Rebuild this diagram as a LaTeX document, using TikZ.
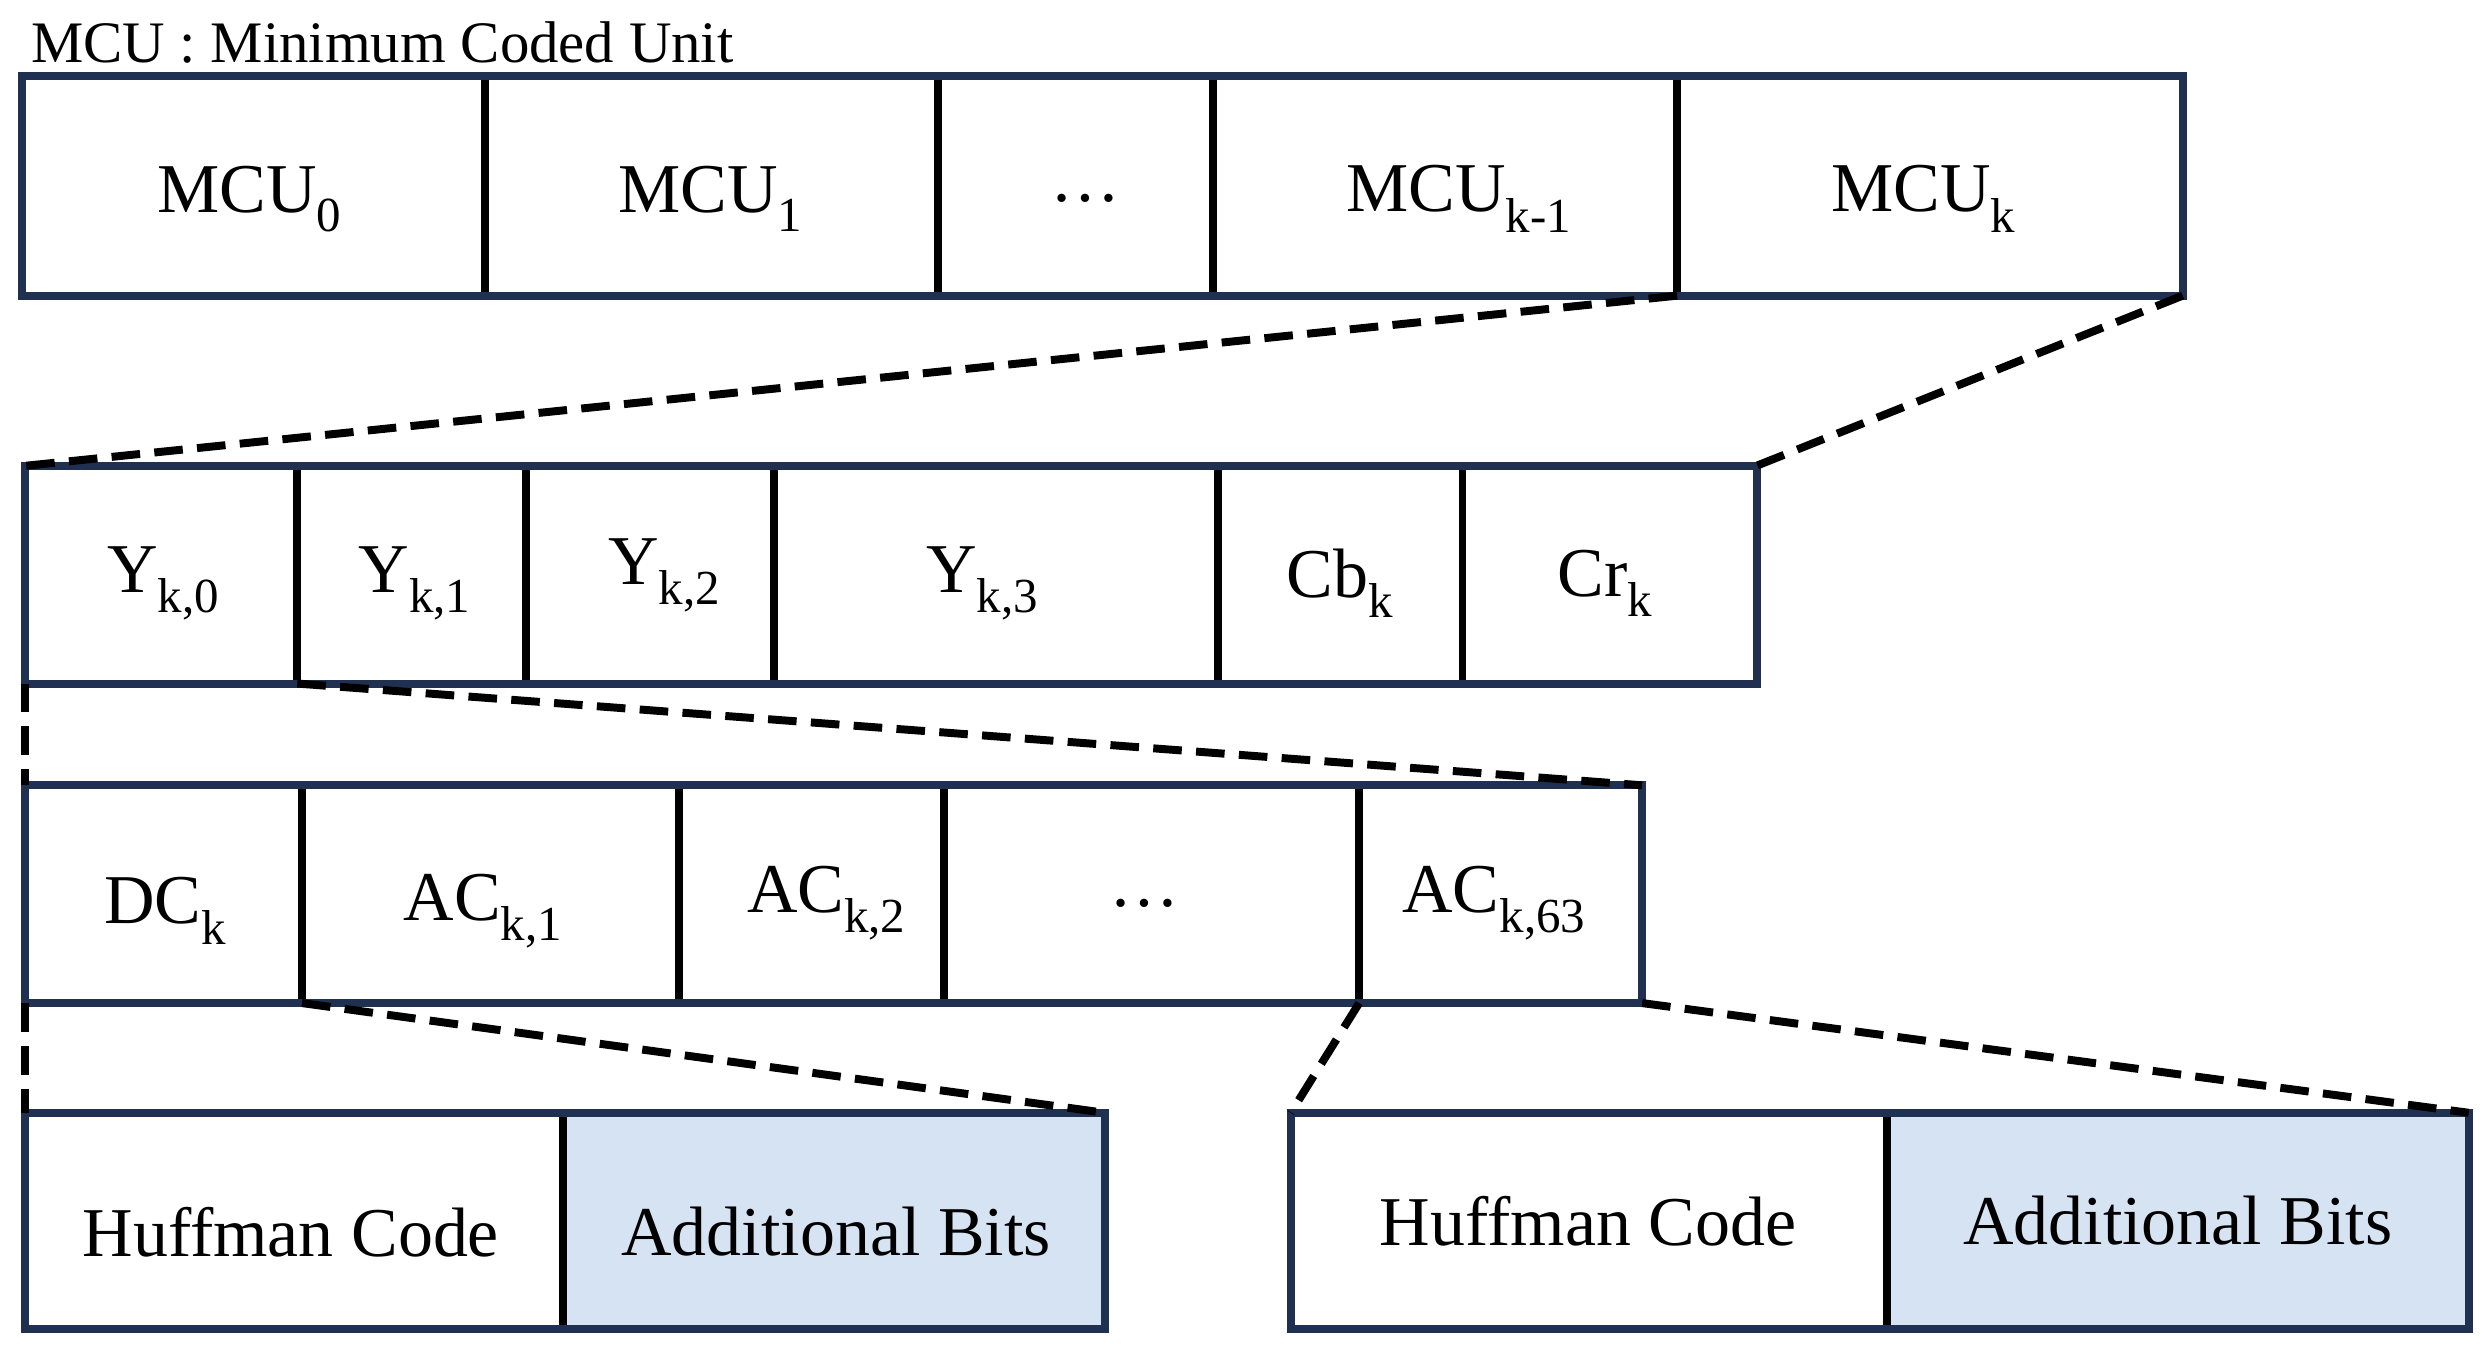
\documentclass[tikz,border=0pt]{standalone}
\usepackage{fontspec}
\setmainfont{Liberation Serif}
\begin{document}
\begin{tikzpicture}[x=1pt,y=-1pt,
  outer/.style={draw=navy,line width=5pt},
  div/.style={draw=black,line width=5pt},
  dashln/.style={draw=black,line width=5pt,dash pattern=on 18pt off 9pt},
  lab/.style={font=\fontsize{44}{48}\selectfont,anchor=center}]
\definecolor{navy}{HTML}{1F3050}
\definecolor{lightb}{HTML}{D5E3F2}
\useasboundingbox (0,0) rectangle (1567,852);
\node[anchor=west,font=\fontsize{37}{40}\selectfont] (title) at (16,27) {MCU : Minimum Coded Unit};
% row 1
\coordinate (r1tl) at (14,48); \coordinate (r1br) at (1373,186);
\foreach \x in {305,590,763,1055} \draw[div] (\x,48) -- (\x,186);
\draw[outer] (r1tl) rectangle (r1br);
\coordinate (r1d) at (1055,186);
\node[lab] (m0) at (157,125) {MCU\textsubscript{0}};
\node[lab] (m1) at (447,125) {MCU\textsubscript{1}};
\node[lab] (m2) at (683,125) {\dots};
\node[lab] (m3) at (918,125) {MCU\textsubscript{k-1}};
\node[lab] (m4) at (1210,125) {MCU\textsubscript{k}};
% row 2
\coordinate (r2tl) at (16,293); \coordinate (r2tr) at (1105,293);
\foreach \x in {187,331,487,766,920} \draw[div] (\x,293) -- (\x,430);
\draw[outer] (16,293) rectangle (1105,430);
\coordinate (r2bl) at (16,430); \coordinate (r2d) at (187,430);
\node[lab] (y0) at (103,367) {Y\textsubscript{k,0}};
\node[lab] (y1) at (261,367) {Y\textsubscript{k,1}};
\node[lab] (y2) at (418,362) {Y\textsubscript{k,2}};
\node[lab] (y3) at (618,367) {Y\textsubscript{k,3}};
\node[lab] (cb) at (843,367) {Cb\textsubscript{k}};
\node[lab] (cr) at (1010,367) {Cr\textsubscript{k}};
% row 3
\coordinate (r3tl) at (16,494); \coordinate (r3tr) at (1033,494);
\foreach \x in {190,427,594,855} \draw[div] (\x,494) -- (\x,631);
\draw[outer] (16,494) rectangle (1033,631);
\coordinate (r3bl) at (16,631); \coordinate (r3d) at (190,631);
\coordinate (r3e) at (855,631); \coordinate (r3br) at (1033,631);
\node[lab] (dc) at (104,573) {DC\textsubscript{k}};
\node[lab] (a1) at (304,573) {AC\textsubscript{k,1}};
\node[lab] (a2) at (520,568) {AC\textsubscript{k,2}};
\node[lab] (a3) at (720,568) {\dots};
\node[lab] (a4) at (940,568) {AC\textsubscript{k,63}};
% row 4 left
\fill[lightb] (354,700) rectangle (695,836);
\draw[div] (354,700) -- (354,836);
\draw[outer] (16,700) rectangle (695,836);
\coordinate (l4tl) at (16,700); \coordinate (l4tr) at (695,700);
\node[lab] (h1) at (183,775) {Huffman Code};
\node[lab] (b1) at (526,775) {Additional Bits};
% row 4 right
\fill[lightb] (1187,700) rectangle (1553,836);
\draw[div] (1187,700) -- (1187,836);
\draw[outer] (812,700) rectangle (1553,836);
\coordinate (r4tl) at (812,700); \coordinate (r4tr) at (1553,700);
\node[lab] (h2) at (999,768) {Huffman Code};
\node[lab] (b2) at (1370,768) {Additional Bits};
% dashes
\draw[dashln] (r1d) -- (r2tl);
\draw[dashln] (r1br) -- (r2tr);
\draw[dashln] (r2bl) -- (r3tl);
\draw[dashln] (r2d) -- (r3tr);
\draw[dashln] (r3bl) -- (l4tl);
\draw[dashln] (r3d) -- (l4tr);
\draw[dashln] (r3e) -- (r4tl);
\draw[dashln] (r3br) -- (r4tr);
\end{tikzpicture}
\end{document}
